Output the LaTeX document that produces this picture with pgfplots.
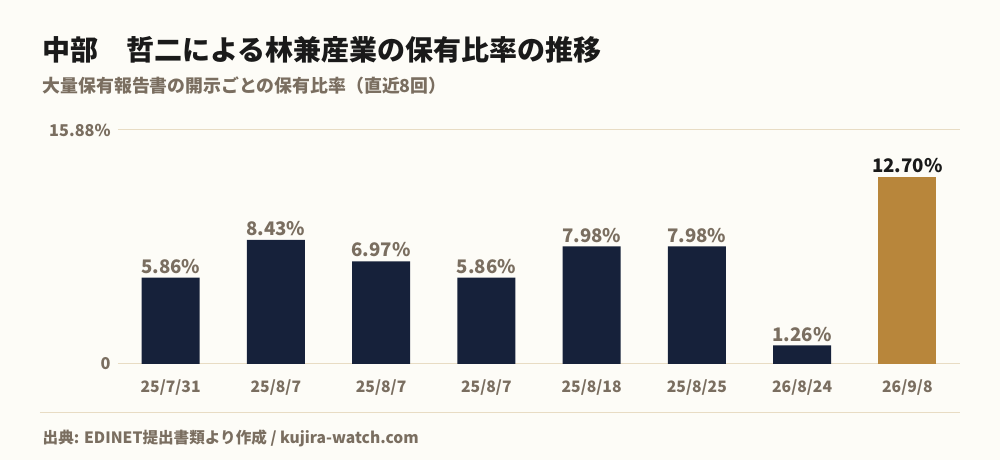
\documentclass[border=0pt]{standalone}
\usepackage{fontspec}
\setmainfont{Noto Sans CJK JP}
\usepackage{pgfplots}
\pgfplotsset{compat=1.18}
\usetikzlibrary{backgrounds}
\definecolor{bg}{HTML}{FDFCF7}
\definecolor{navy}{HTML}{16213A}
\definecolor{gold}{HTML}{B8863B}
\definecolor{gridc}{HTML}{E8DCC4}
\definecolor{lab}{HTML}{7A6E60}
\definecolor{ink}{HTML}{1A1A1A}
\begin{document}
\begin{tikzpicture}[x=0.75pt,y=0.75pt]
\begin{axis}[
  name=ax,
  scale only axis, width=631.5pt, height=175.5pt,
  xmin=-0.5, xmax=7.5, ymin=0, ymax=15.88,
  axis line style={draw=none},
  ybar, bar width=0.55, bar shift=0pt,
  xtick={0,...,7},
  xticklabels={25/7/31,25/8/7,25/8/7,25/8/7,25/8/18,25/8/25,26/8/24,26/9/8},
  ytick={0,15.88}, yticklabels={0,15.88\%},
  tick style={draw=none},
  x tick label style={text=lab,font=\fontsize{11.8}{13}\selectfont\bfseries,yshift=-4pt},
  y tick label style={text=lab,font=\fontsize{12.2}{14}\selectfont\bfseries,xshift=-2pt},
  ymajorgrids, major grid style={gridc,line width=0.75pt},
  /pgf/number format/assume math mode=true,
  nodes near coords={\pgfmathprintnumber[fixed,fixed zerofill,precision=2]{\pgfplotspointmeta}\%},
  nodes near coords style={font=\fontsize{14}{16}\selectfont\bfseries,yshift=-0.5pt},
  clip=false,
]
\addplot[fill=navy,draw=none,nodes near coords style={text=lab}] coordinates {
  (0,5.86) (1,8.43) (2,6.97) (3,5.86) (4,7.98) (5,7.98) (6,1.26)
};
\addplot[fill=gold,draw=none,nodes near coords style={text=ink}] coordinates {
  (7,12.70)
};
\end{axis}
\begin{scope}[shift={(ax.south west)},shift={(-118,-96)}]
\node[anchor=west,text=ink,font=\fontsize{21}{24}\selectfont\bfseries] at (38,410) {中部　哲二による林兼産業の保有比率の推移};
\node[anchor=west,text=lab,font=\fontsize{13.4}{15}\selectfont\bfseries] at (38,374) {大量保有報告書の開示ごとの保有比率（直近8回）};
\draw[gridc,line width=0.75pt] (40,47) -- (960,47);
\node[anchor=west,text=lab,font=\fontsize{11.7}{13}\selectfont\bfseries] at (38,22) {出典: EDINET提出書類より作成 / kujira-watch.com};
\begin{scope}[on background layer]
\fill[bg] (0,0) rectangle (1000,460);
\end{scope}
\end{scope}
\end{tikzpicture}
\end{document}
